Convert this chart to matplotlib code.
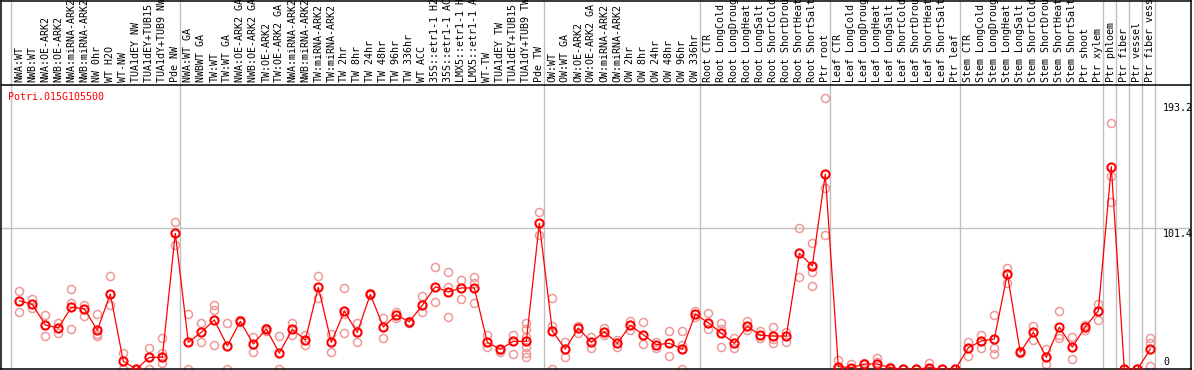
import matplotlib
matplotlib.use("Agg")
import matplotlib.pyplot as plt

gene_id = "Potri.015G105500"

samples = [
    "NWA:WT", "NWB:WT", "NWA:OE-ARK2", "NWB:OE-ARK2", "NWA:miRNA-ARK2",
    "NWB:miRNA-ARK2", "NW 0hr", "WT H2O", "WT-NW", "TUA1dEY NW",
    "TUA1dEY+TUB15 NW", "TUA1dY+TUB9 NW", "Pde NW",
    "NWA:WT GA", "NWBWT GA", "TW:WT", "TW:WT GA", "NWA:OE-ARK2 GA",
    "NWB:OE-ARK2 GA", "TW:OE-ARK2", "TW:OE-ARK2 GA", "NWA:miRNA-ARK2",
    "NWB:miRNA-ARK2", "TW:miRNA-ARK2", "TW:miRNA-ARK2", "TW 2hr", "TW 8hr",
    "TW 24hr", "TW 48hr", "TW 96hr", "TW 336hr", "WT ACC",
    "35S::etr1-1 H2O", "35S::etr1-1 ACC", "LMX5::etr1-1 H2O",
    "LMX5::etr1-1 ACC", "WT-TW", "TUA1dEY TW", "TUA1dEY+TUB15 TW",
    "TUA1dY+TUB9 TW", "Pde TW",
    "OW:WT", "OW:WT GA", "OW:OE-ARK2", "OW:OE-ARK2 GA", "OW:miRNA-ARK2",
    "OW:miRNA-ARK2", "OW 2hr", "OW 8hr", "OW 24hr", "OW 48hr", "OW 96hr",
    "OW 336hr",
    "Root CTR", "Root LongCold", "Root LongDrought", "Root LongHeat",
    "Root LongSalt", "Root ShortCold", "Root ShortDrought", "Root ShortHeat",
    "Root ShortSalt", "Ptr root",
    "Leaf CTR", "Leaf LongCold", "Leaf LongDrought", "Leaf LongHeat",
    "Leaf LongSalt", "Leaf ShortCold", "Leaf ShortDrought", "Leaf ShortHeat",
    "Leaf ShortSalt", "Ptr leaf",
    "Stem CTR", "Stem LongCold", "Stem LongDrought", "Stem LongHeat",
    "Stem LongSalt", "Stem ShortCold", "Stem ShortDrought", "Stem ShortHeat",
    "Stem ShortSalt", "Ptr shoot", "Ptr xylem",
    "Ptr phloem", "Ptr fiber", "Ptr vessel", "Ptr fiber vessel",
]

means = [
    49.3, 46.7, 31.9, 29.7, 44.6, 43.6, 28.0, 54.2, 5.8, 0.0,
    8.6, 8.6, 97.8, 19.4, 26.6, 35.5, 16.8, 34.5, 18.2, 29.0,
    11.7, 28.8, 21.1, 59.0, 19.4, 41.7, 26.6, 53.9, 30.4, 39.1,
    34.2, 46.0, 59.4, 55.6, 58.5, 58.5, 19.4, 14.4, 20.1, 20.1,
    105.0, 27.5, 14.6, 29.7, 19.4, 27.0, 18.7, 31.6, 24.9, 17.7,
    18.7, 14.6, 39.6, 33.5, 25.9, 18.7, 30.9, 24.5, 23.9, 23.9,
    83.4, 74.3, 140.2, 1.9, 1.2, 3.8, 3.8, 1.2, 0.0, 0.0,
    1.2, 0.0, 0.0, 15.5, 20.4, 21.8, 68.5, 12.2, 26.6, 8.6,
    30.4, 16.0, 30.4, 42.1, 145.7, 0.0, 0.0, 14.4,
]

replicates = [
    [56.1, 41.0], [50.8, 43.9], [38.8, 23.9], [33.1, 25.9],
    [57.5, 47.9, 29.0], [46.2, 38.5], [39.6, 25.4, 23.9], [67.3, 46.2],
    [11.7, 0.0], [0.0, 0.0], [15.1, 0.0], [22.3, 11.9, 4.7],
    [105.7, 89.4], [39.6, 0.0], [33.1, 19.8], [46.0, 42.9, 17.3],
    [33.1, 0.0], [35.5, 34.0], [23.4, 12.2], [29.9, 27.8],
    [23.9, 0.0], [33.1, 24.7], [24.7, 17.5], [66.9, 51.1],
    [25.6, 12.7], [58.3, 39.8, 25.9], [33.3, 19.8], [53.2, 54.6],
    [37.1, 22.7], [41.4, 36.7], [34.8, 33.6], [52.5, 41.0],
    [73.4, 48.2], [69.8, 59.4, 37.6], [64.2, 50.3], [66.2, 61.8, 47.5],
    [24.7, 15.8], [12.7, 14.0], [24.7, 11.0],
    [33.1, 29.0, 23.4, 16.3, 11.9, 9.1],
    [112.9, 96.6], [51.1, 31.4, 0.0], [19.8, 8.6], [31.1, 26.3],
    [23.4, 15.1], [29.5, 24.7], [21.1, 16.3], [35.0, 28.3],
    [33.8, 18.2], [19.8, 15.1], [27.5, 9.6], [27.5, 17.5, 0.0],
    [41.9, 37.4], [40.3, 29.2], [33.1, 29.0, 15.8], [22.7, 15.1],
    [35.0, 28.3], [27.8, 22.3], [30.6, 21.6, 18.7], [26.6, 19.8],
    [101.4, 66.2], [90.6, 70.2, 60.1], [194.9, 130.2, 96.6], [6.7, 0.0],
    [3.6, 0.0], [4.7, 0.0], [7.9, 5.5], [1.9, 0.0],
    [0.0, 0.0], [0.0, 0.0], [4.3, 0.0], [0.0, 0.0],
    [0.0, 0.0], [19.8, 9.6], [24.7, 15.1], [39.1, 15.5, 10.8],
    [72.6, 61.8], [13.2, 11.5], [31.4, 21.1], [14.4, 3.8],
    [41.9, 24.7, 22.3], [23.0, 7.2], [31.9, 28.3], [47.0, 35.5],
    [176.9, 139.2, 120.5], [0.0, 0.0], [0.0, 0.0], [22.3, 18.7, 2.4],
]

# first sample index of each block, gray separators go just left of them
group_starts = [0, 13, 41, 53, 63, 73, 84, 85, 86, 87, 88]
y_labels = [193.2, 101.4, 0]

red = "#FF0000"
pink = "#EE9999"
grid = "#C0C0C0"
mono = "DejaVu Sans Mono"

fig = plt.figure(figsize=(11.94, 3.70), dpi=100)
# axes spans the whole box, header area included
ax = fig.add_axes([1 / 1194, 0.7 / 370, 1190 / 1194, 368.8 / 370])
ax.set_xlim(-1.408, 90.13)
ax.set_ylim(0, 265.2)
ax.set_xticks([])
ax.set_yticks([])
for sp in ax.spines.values():
    sp.set_color("black")
    sp.set_linewidth(1.1)

header_y = 204.5
ax.axhline(header_y, color="black", lw=1.1, zorder=3)
ax.axhline(101.4, color=grid, lw=1.0, zorder=0)
for b in group_starts:
    ax.axvline(b - 0.62, color=grid, lw=1.0, zorder=0)

for i, name in enumerate(samples):
    ax.text(i, header_y + 1.8, name, rotation=90, ha="center", va="bottom",
            family=mono, fontsize=7.2, color="black", clip_on=False)

for i, reps in enumerate(replicates):
    ax.plot([i] * len(reps), reps, "o", ms=5.8, mfc="none", mec=pink,
            mew=1.1, zorder=2)

x = list(range(len(means)))
ax.plot(x, means, "-", color=red, lw=0.9, zorder=3)
ax.plot(x, means, "o", ms=5.9, mfc="none", mec=red, mew=1.5, zorder=4)

ax.text(-0.87, 195.8, gene_id, ha="left", va="center", family=mono,
        fontsize=7.2, color=red)

ax.text(87.98, 191.5, "%.1f" % y_labels[0], ha="left", va="top",
        family=mono, fontsize=7.2)
ax.text(87.98, 101.2, "%.1f" % y_labels[1], ha="left", va="top",
        family=mono, fontsize=7.2)
ax.text(87.98, 2.0, "%d" % y_labels[2], ha="left", va="bottom",
        family=mono, fontsize=7.2)

fig.savefig("out.png", dpi=100)
